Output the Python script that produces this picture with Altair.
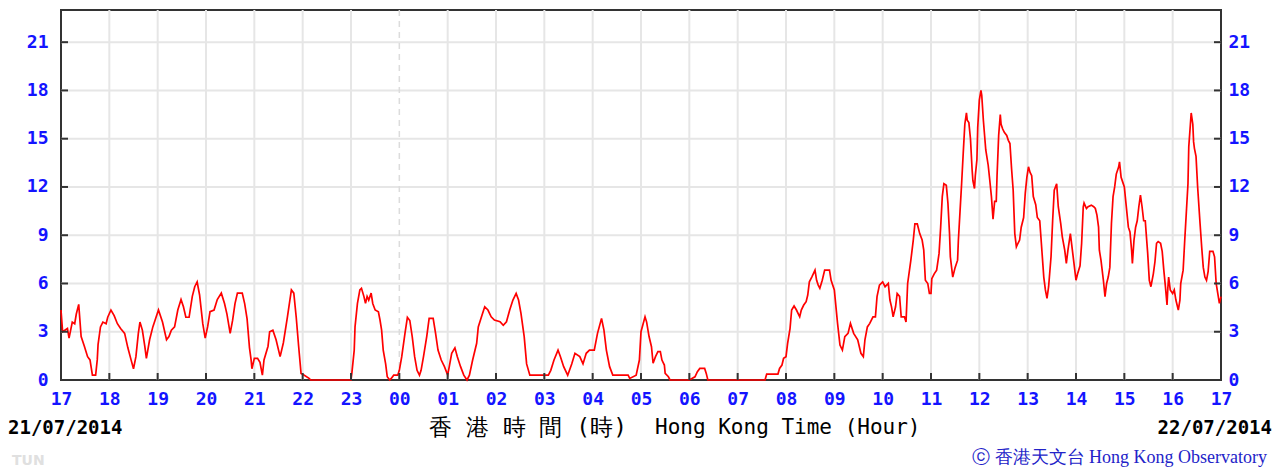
import altair as alt
import pandas as pd

# ---- data (minutes since 17:00 on 21/07/2014, wind speed km/h) ----
minutes = [
    0, 2, 8, 10, 14, 17, 19, 22, 25, 29, 33, 36, 39, 43, 45, 46, 49, 52, 56, 58,
    62, 66, 70, 74, 79, 83, 87, 90, 93, 96, 98, 101, 104, 106, 110, 114, 118, 121, 126, 131,
    134, 137, 141, 145, 149, 152, 155, 159, 163, 166, 169, 172, 176, 179, 182, 185, 190, 194, 199, 203,
    206, 210, 213, 216, 219, 225, 228, 231, 234, 236, 237, 240, 244, 247, 250, 252, 257, 259, 263, 267,
    272, 276, 281, 286, 289, 292, 295, 298, 302, 308, 310,
    360, 361, 364, 365, 368, 371, 373, 376, 378, 380, 382, 385, 387, 390, 394, 396, 398, 400, 403, 405,
    408, 410, 413, 418, 420, 423, 427, 430, 433, 436, 439, 442, 445, 447, 450, 454, 457, 462, 465, 468,
    472, 476, 480, 482, 485, 489, 492, 496, 500, 504, 507, 511, 516, 518, 522, 526, 530, 534, 538, 545,
    549, 553, 557, 561, 565, 568, 571, 575, 578, 582, 605, 608, 612, 617, 620, 624, 629, 634, 638, 644,
    648, 652, 656, 662, 666, 671, 674, 677, 681, 685, 704, 706, 714, 718,
    720, 725, 727, 730, 733, 735, 738, 741, 744, 746, 749, 750, 754, 756, 780, 787, 790, 793, 799, 801,
    803, 874, 876, 890, 892, 895, 897, 900, 902, 905, 907, 910, 913, 917, 919, 922, 925, 927, 929, 932,
    936, 938, 940, 942, 945, 948, 954, 956, 960, 964, 967, 970, 973, 977, 980, 984, 989, 993, 996, 998,
    1001, 1004, 1008, 1011, 1013, 1016, 1020, 1023, 1027, 1029, 1031, 1033, 1036, 1038, 1041, 1043, 1047, 1049, 1051, 1055,
    1058, 1060, 1063, 1066, 1069, 1071, 1073, 1076, 1078,
    1080, 1081, 1084, 1087, 1090, 1092, 1094, 1096, 1099, 1101, 1103, 1104, 1107, 1110, 1113, 1114, 1116, 1118, 1120, 1122,
    1124, 1125, 1127, 1129, 1131, 1132, 1134, 1135, 1137, 1138, 1140, 1142, 1143, 1145, 1148, 1151, 1153, 1155, 1157, 1159,
    1161, 1162, 1164, 1166, 1167, 1169, 1171, 1174, 1176, 1178, 1180, 1182, 1184, 1186, 1188, 1190, 1192, 1195, 1197, 1199,
    1201, 1203, 1205, 1207, 1210, 1212, 1215, 1217, 1220, 1222, 1224, 1226, 1229, 1231, 1233, 1236, 1238, 1241, 1243, 1246,
    1248, 1250, 1253, 1255, 1257, 1260, 1262, 1265, 1267, 1269, 1270, 1273, 1275, 1279, 1282, 1284, 1286, 1288, 1289, 1291,
    1294, 1296, 1298, 1300, 1302, 1304, 1306, 1308, 1310, 1313, 1314, 1316, 1318, 1320, 1322, 1325, 1327, 1329, 1330, 1332,
    1334, 1336, 1338, 1340, 1342, 1344, 1346, 1347, 1349, 1351, 1353, 1356, 1358, 1360, 1362, 1365, 1367, 1369, 1371, 1373,
    1374, 1375, 1377, 1380, 1382, 1384, 1387, 1389, 1390, 1393, 1395, 1397, 1399, 1400, 1402, 1403, 1405, 1406, 1407, 1409,
    1411, 1414, 1416, 1418, 1420, 1422, 1424, 1426, 1428, 1430, 1432, 1434, 1436, 1438, 1440,
]
speeds = [
    4.35, 3.0, 3.2, 2.6, 3.6, 3.5, 4.1, 4.7, 2.7, 2.1, 1.45, 1.25, 0.3, 0.3, 1.25, 2.2, 3.3, 3.6, 3.5, 3.9,
    4.35, 4.0, 3.5, 3.2, 2.9, 2.0, 1.25, 0.7, 1.45, 2.9, 3.6, 3.1, 2.1, 1.35, 2.5, 3.3, 3.9, 4.35, 3.6, 2.5,
    2.7, 3.1, 3.3, 4.35, 5.0, 4.55, 3.9, 3.9, 5.2, 5.8, 6.1, 5.3, 3.5, 2.6, 3.3, 4.25, 4.35, 5.0, 5.4, 4.75,
    4.1, 2.9, 3.7, 4.75, 5.4, 5.4, 4.75, 3.8, 2.0, 1.25, 0.7, 1.35, 1.35, 1.1, 0.3, 1.25, 2.1, 3.0, 3.1, 2.5,
    1.45, 2.3, 3.9, 5.6, 5.4, 3.9, 2.1, 0.4, 0.3, 0.1, 0.0,
    0.0, 0.4, 1.86, 3.3, 4.76, 5.6, 5.7, 5.2, 4.76, 5.2, 4.97, 5.4, 4.76, 4.35, 4.24, 3.73, 3.1, 1.86, 1.0, 0.2,
    0.0, 0.1, 0.3, 0.3, 0.6, 1.45, 2.9, 3.9, 3.7, 2.7, 1.45, 0.6, 0.3, 0.6, 1.45, 2.7, 3.83, 3.83, 2.9, 1.86,
    1.24, 0.83, 0.31, 0.83, 1.66, 2.0, 1.45, 0.83, 0.3, 0.0, 0.3, 1.24, 2.28, 3.3, 3.93, 4.55, 4.35, 3.93, 3.73, 3.62,
    3.4, 3.62, 4.35, 4.97, 5.38, 4.97, 4.14, 2.7, 1.0, 0.3, 0.3, 0.6, 1.24, 1.86, 1.45, 0.83, 0.3, 1.0, 1.66, 1.45,
    1.0, 1.66, 1.86, 1.86, 2.9, 3.83, 3.1, 1.86, 0.83, 0.3, 0.3, 0.1, 0.3, 1.24,
    3.0, 3.93, 3.6, 2.7, 2.07, 1.04, 1.45, 1.76, 1.76, 1.24, 0.93, 0.41, 0.2, 0.0, 0.0, 0.2, 0.52, 0.72, 0.72, 0.41,
    0.0, 0.0, 0.37, 0.37, 0.72, 0.93, 1.35, 1.45, 2.28, 3.2, 4.35, 4.6, 4.35, 3.93, 4.35, 4.66, 4.87, 5.28, 6.1, 6.4,
    6.83, 6.2, 5.9, 5.7, 6.2, 6.83, 6.83, 6.2, 5.6, 3.52, 2.17, 1.86, 2.7, 2.9, 3.52, 2.9, 2.5, 1.66, 1.45, 2.5,
    3.3, 3.52, 3.93, 3.93, 5.18, 5.9, 6.1, 5.8, 6.0, 4.97, 4.55, 3.93, 4.55, 5.38, 5.2, 3.93, 3.93, 3.6, 6.0, 7.45,
    8.7, 9.7, 9.7, 9.1, 8.7, 8.07, 6.2, 6.0, 5.38,
    5.38, 6.3, 6.6, 6.83, 7.87, 9.5, 11.4, 12.2, 12.1, 11.0, 9.1, 7.66, 6.4, 7.0, 7.45, 8.7, 10.45, 12.2, 14.1, 15.9,
    16.6, 16.15, 16.0, 15.0, 13.1, 12.4, 11.9, 12.7, 13.7, 15.7, 17.4, 18.0, 17.7, 16.15, 14.3, 13.35, 12.4, 11.4, 10.0, 11.1,
    11.1, 12.7, 15.2, 16.5, 15.9, 15.6, 15.4, 15.2, 14.9, 14.7, 13.15, 11.8, 9.1, 8.28, 8.5, 8.7, 9.5, 10.1, 11.6, 12.6,
    13.25, 12.9, 12.7, 11.4, 10.9, 10.1, 9.9, 8.5, 6.4, 5.6, 5.07, 5.8, 7.66, 9.9, 11.8, 12.2, 10.77, 9.73, 8.9, 8.07,
    7.25, 8.07, 9.1, 8.28, 7.45, 6.2, 6.6, 7.1, 8.5, 10.77, 11.0, 10.66, 10.77, 10.87, 10.77, 10.66, 10.25, 9.5, 8.07, 7.45,
    6.2, 5.18, 6.0, 6.4, 7.0, 9.73, 11.4, 12.0, 12.8, 13.25, 13.56, 12.6, 12.3, 12.0, 11.0, 9.5, 9.2, 8.07, 7.25, 8.7,
    9.5, 9.9, 10.77, 11.5, 10.77, 9.9, 9.9, 9.2, 7.87, 6.2, 5.8, 6.6, 7.35, 8.5, 8.6, 8.5, 8.0, 6.83, 5.8, 4.66,
    5.7, 6.4, 5.6, 5.38, 5.6, 4.97, 4.35, 4.97, 6.0, 6.83, 8.7, 10.45, 12.2, 14.5, 15.9, 16.6, 15.9, 14.8, 14.4, 13.9,
    12.0, 9.73, 8.28, 7.0, 6.4, 6.2, 6.73, 8.0, 8.0, 8.0, 7.66, 6.0, 5.38, 4.76, 5.18,
]
hour_labels = ["17", "18", "19", "20", "21", "22", "23", "00", "01", "02", "03", "04", "05",
               "06", "07", "08", "09", "10", "11", "12", "13", "14", "15", "16", "17"]
y_ticks = [0, 3, 6, 9, 12, 15, 18, 21]
date_start = "21/07/2014"
date_end = "22/07/2014"
title_zh = "香 港 時 間 (時)"
title_en = "Hong Kong Time (Hour)"
credit = "ⓒ 香港天文台 Hong Kong Observatory"
station = "TUN"

# ---- layout / style ----
W, H = 1160, 370
BLUE = "#1414ff"
FRAME = "#333333"
GRID = "#e6e6e6"
MONO = "DejaVu Sans Mono"

df = pd.DataFrame({"m": minutes, "v": speeds})
hour_pos = [i * 60 for i in range(len(hour_labels))]
grid_x = pd.DataFrame({"m": [p for p in hour_pos if 0 < p < 1440 and hour_labels[p // 60] != "00"]})
midnight = pd.DataFrame({"m": [p for p in hour_pos if hour_labels[p // 60] == "00"]})
inner_ticks_x = pd.DataFrame({"m": [p for p in hour_pos if 0 < p < 1440]})
ydf = pd.DataFrame({"v": y_ticks})
ygrid = pd.DataFrame({"v": [t for t in y_ticks if t > 0]})

xs = alt.Scale(domain=[0, 1440], nice=False, zero=False)
ys = alt.Scale(domain=[0, 23], nice=False, zero=True)

label_expr = "[" + ",".join(f"'{l}'" for l in hour_labels) + "][round(datum.value/60)]"

x_axis = alt.Axis(values=hour_pos, labelExpr=label_expr, labelColor=BLUE, labelFont=MONO,
                  labelFontWeight="bold", labelFontSize=18, labelPadding=10, tickSize=0,
                  labelFlush=False, labelOverlap=False,
                  domain=False, grid=False, title=None, labelBaseline="top")
y_left = alt.Axis(orient="left", values=y_ticks, labelColor=BLUE, labelFont=MONO,
                  labelFontWeight="bold", labelFontSize=18, labelPadding=13, tickSize=0,
                  labelFlush=False, labelOverlap=False,
                  domain=False, grid=False, title=None)
y_right = alt.Axis(orient="right", values=y_ticks, labelColor=BLUE, labelFont=MONO,
                   labelFontWeight="bold", labelFontSize=18, labelPadding=7, tickSize=0,
                   labelFlush=False, labelOverlap=False,
                   domain=False, grid=False, title=None)

hgrid = alt.Chart(ygrid).mark_rule(color=GRID, strokeWidth=2).encode(
    y=alt.Y("v:Q", scale=ys, axis=y_left), x=alt.value(0), x2=alt.value(W))
vgrid = alt.Chart(grid_x).mark_rule(color=GRID, strokeWidth=2).encode(
    x=alt.X("m:Q", scale=xs, axis=x_axis), y=alt.value(0), y2=alt.value(H))
mid = alt.Chart(midnight).mark_rule(color="#dcdcdc", strokeWidth=1.5, strokeDash=[6, 5]).encode(
    x=alt.X("m:Q", scale=xs), y=alt.value(0), y2=alt.value(H))

line = alt.Chart(df).mark_line(color="#ff0000", strokeWidth=1.7).encode(
    x=alt.X("m:Q", scale=xs),
    y=alt.Y("v:Q", scale=ys, axis=y_right))

ltick = alt.Chart(ydf).mark_rule(color=FRAME, strokeWidth=2).encode(
    y=alt.Y("v:Q", scale=ys, axis=None), x=alt.value(0), x2=alt.value(7))
rtick = alt.Chart(ydf).mark_rule(color=FRAME, strokeWidth=2).encode(
    y=alt.Y("v:Q", scale=ys, axis=None), x=alt.value(W - 7), x2=alt.value(W))
btick = alt.Chart(inner_ticks_x).mark_rule(color=FRAME, strokeWidth=2).encode(
    x=alt.X("m:Q", scale=xs), y=alt.value(H - 7), y2=alt.value(H))


def label(txt, x, y, align="left", size=18, weight="normal", color="black", font=MONO):
    return alt.Chart(pd.DataFrame({"t": [txt]})).mark_text(
        align=align, baseline="middle", fontSize=size, fontWeight=weight, color=color, font=font
    ).encode(text="t:N", x=alt.value(x), y=alt.value(y))


texts = [
    label(date_start, -53, 418, size=19, weight="bold"),
    label(date_end, 1211, 418, align="right", size=19, weight="bold"),
    label(title_zh, 467, 418, align="center", size=23),
    label(title_en, 594, 418, size=21),
    label(credit, 911, 448, size=18, color="#2323c8", font="Liberation Serif"),
    label(station, -49, 451, size=14, weight="bold", color="#e0e0e0", font="DejaVu Sans"),
]

chart = alt.layer(hgrid, vgrid, mid, line, ltick, rtick, btick, *texts).resolve_scale(
    y="independent"
).properties(
    width=W, height=H,
    padding={"left": 53, "top": 2, "right": 51, "bottom": 90},
    autosize=alt.AutoSizeParams(type="none"),
    background="white",
).configure_view(stroke=FRAME, strokeWidth=2)

chart.save("out.html", embed_options={"renderer": "svg", "actions": False})
